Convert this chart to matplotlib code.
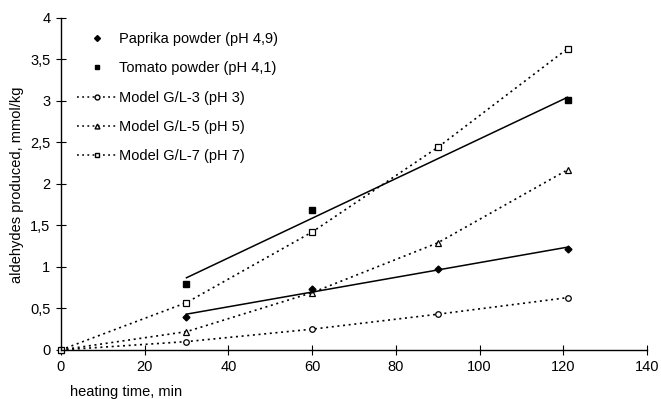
import numpy as np
import matplotlib
matplotlib.use("Agg")
import matplotlib.pyplot as plt
from matplotlib.lines import Line2D

plt.rcParams['font.family'] = ['Liberation Sans', 'DejaVu Sans']

# Data
paprika_x = [30, 60, 90, 121]
paprika_y = [0.40, 0.74, 0.97, 1.22]
tomato_x = [30, 60, 121]
tomato_y = [0.80, 1.69, 3.01]
model_x = [0, 30, 60, 90, 121]
gl3_y = [0.0, 0.10, 0.25, 0.43, 0.63]
gl5_y = [0.0, 0.22, 0.69, 1.29, 2.17]
gl7_y = [0.0, 0.57, 1.42, 2.44, 3.63]

labels = ["Paprika powder (pH 4,9)", "Tomato powder (pH 4,1)",
          "Model G/L-3 (pH 3)", "Model G/L-5 (pH 5)", "Model G/L-7 (pH 7)"]
xticks = [0, 20, 40, 60, 80, 100, 120, 140]
yticks = [0, 0.5, 1, 1.5, 2, 2.5, 3, 3.5, 4]
ytick_labels = ["0", "0,5", "1", "1,5", "2", "2,5", "3", "3,5", "4"]

fig = plt.figure(figsize=(6.61, 3.99), dpi=100)
ax = fig.add_axes([0.092, 0.123, 0.887, 0.832])

dot = (0, (1.2, 2.2))
ms = 4
# model series: dotted lines with open markers
ax.plot(model_x, gl3_y, linestyle=dot, color='black', lw=1.2, marker='o',
        mfc='white', mec='black', ms=ms, mew=0.9)
ax.plot(model_x, gl5_y, linestyle=dot, color='black', lw=1.2, marker='^',
        mfc='white', mec='black', ms=ms, mew=0.9)
ax.plot(model_x, gl7_y, linestyle=dot, color='black', lw=1.2, marker='s',
        mfc='white', mec='black', ms=ms, mew=0.9)

# paprika and tomato: markers + linear regression lines
ax.plot(paprika_x, paprika_y, linestyle='none', marker='D', color='black', ms=3.5)
ax.plot(tomato_x, tomato_y, linestyle='none', marker='s', color='black', ms=4)
for xs, ys in [(paprika_x, paprika_y), (tomato_x, tomato_y)]:
    k, b = np.polyfit(xs, ys, 1)
    xx = np.array([min(xs), max(xs)])
    ax.plot(xx, k * xx + b, color='black', lw=1.1)

ax.set_xlim(0, 140)
ax.set_ylim(0, 4)
ax.set_xticks(xticks)
ax.set_xticklabels([str(t) for t in xticks])
ax.set_yticks(yticks)
ax.set_yticklabels(ytick_labels)
ax.tick_params(direction='inout', length=7, width=0.8, labelsize=10.5, pad=4)
for s in ['top', 'right']:
    ax.spines[s].set_visible(False)
for s in ['left', 'bottom']:
    ax.spines[s].set_linewidth(1.0)
for l in ax.lines:
    l.set_clip_on(False)

handles = [
    Line2D([], [], linestyle='none', marker='D', color='black', ms=3),
    Line2D([], [], linestyle='none', marker='s', color='black', ms=3.5),
    Line2D([], [], linestyle=dot, color='black', lw=1.1, marker='o', mfc='white', mec='black', ms=3.5),
    Line2D([], [], linestyle=dot, color='black', lw=1.1, marker='^', mfc='white', mec='black', ms=3.5),
    Line2D([], [], linestyle=dot, color='black', lw=1.1, marker='s', mfc='white', mec='black', ms=3.5),
]
ax.legend(handles, labels, loc='upper left', bbox_to_anchor=(0.006, 0.997),
          frameon=False, fontsize=10.5, handlelength=2.7, handletextpad=0.15,
          labelspacing=1.05)

fig.text(0.026, 0.536, "aldehydes produced, mmol/kg", rotation=90,
         ha='center', va='center', fontsize=10.5)
fig.text(0.106, 0.017, "heating time, min", ha='left', va='center', fontsize=10.5)

fig.savefig("out.png", dpi=100)
